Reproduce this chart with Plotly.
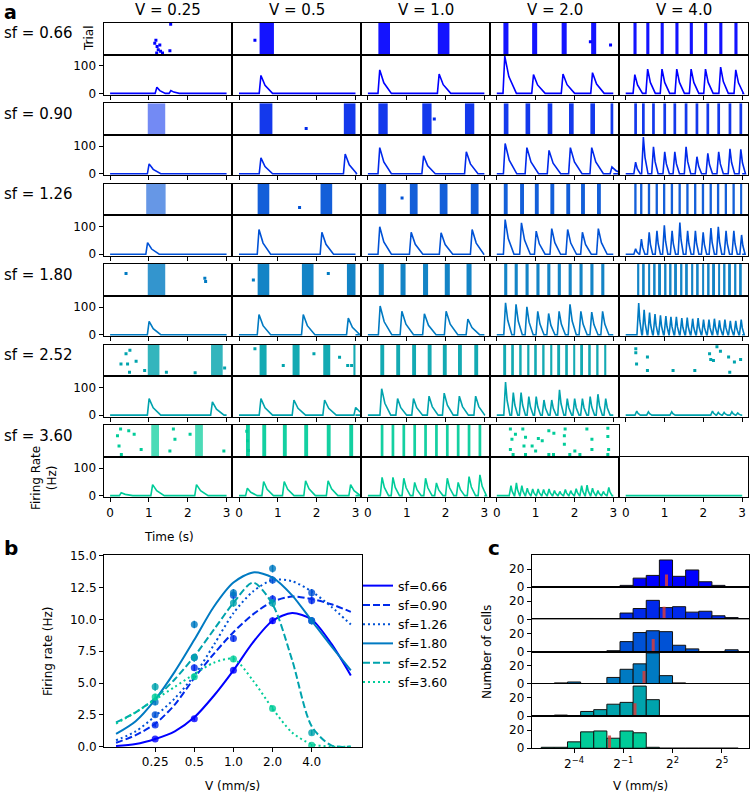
import numpy as np
import plotly.graph_objects as go

SF = [0.66, 0.90, 1.26, 1.80, 2.52, 3.60]
SPEEDS = [0.25, 0.5, 1.0, 2.0, 4.0]
COLORS = ['#0000ff', '#0029eb', '#0052d6', '#007ac2', '#00a3ad', '#00cc99']

# ---- panel a: cycle onset times (s) and PSTH peak rates (Hz), one list per (sf, V)
ONSETS = [
    [[1.17, 1.53], [0.53], [0.27, 1.8], [0.17, 0.91, 1.67, 2.43],
     [0.2, 0.53, 0.9, 1.28, 1.65, 2.02, 2.41, 2.8]],
    [[0.97], [0.53, 2.7], [0.27, 1.4, 2.5], [0.18, 0.74, 1.31, 1.86, 2.41, 2.93],
     [0.22, 0.42, 0.68, 0.97, 1.23, 1.52, 1.8, 2.08, 2.36, 2.65, 2.93]],
    [[0.93], [0.48, 2.1], [0.27, 1.08, 1.85, 2.65], [0.18, 0.6, 0.98, 1.38, 1.79, 2.17, 2.58],
     [0.22, 0.37, 0.57, 0.77, 0.96, 1.16, 1.36, 1.56, 1.76, 1.96, 2.16, 2.35, 2.55, 2.75, 2.95]],
    [[0.97], [0.48, 1.62, 2.78], [0.28, 0.84, 1.42, 1.98, 2.54],
     [0.19, 0.46, 0.74, 1.02, 1.3, 1.57, 1.85, 2.13, 2.41, 2.69],
     [0.3, 0.44, 0.58, 0.72, 0.86, 1.0, 1.13, 1.27, 1.41, 1.55, 1.69, 1.83, 1.97, 2.11,
      2.25, 2.38, 2.52, 2.66, 2.8, 2.94]],
    [[0.97, 2.6], [0.53, 1.38, 2.17, 2.97], [0.32, 0.73, 1.14, 1.54, 1.93, 2.32, 2.74],
     [0.19, 0.39, 0.59, 0.79, 0.98, 1.18, 1.38, 1.58, 1.78, 1.97, 2.17, 2.37, 2.57, 2.77],
     [0.25, 0.55, 1.15, 2.2, 2.35, 2.5, 2.7, 2.85]],
    [[0.25, 1.06, 2.19], [0.18, 0.6, 1.13, 1.68, 2.26, 2.84],
     [0.33, 0.61, 0.89, 1.17, 1.45, 1.73, 2.01, 2.29, 2.57, 2.85],
     [0.33, 0.47, 0.61, 0.75, 0.89, 1.03, 1.17, 1.31, 1.45, 1.59, 1.73, 1.87, 2.01, 2.15,
      2.29, 2.43, 2.57, 2.71, 2.85],
     []],
]
RATES = [
    [[22, 10], [65], [85, 70], [135, 68, 70, 75], [68, 88, 88, 88, 88, 88, 95, 85]],
    [[36], [58, 72], [95, 65, 80], [110, 95, 85, 95, 95, 25],
     [42, 133, 98, 80, 80, 98, 62, 74, 80, 91, 89]],
    [[42], [90, 80], [100, 80, 78, 90], [126, 114, 84, 93, 90, 80, 93],
     [20, 55, 80, 85, 105, 85, 115, 85, 85, 80, 95, 100, 85, 85, 70]],
    [[48], [73, 73, 60], [104, 85, 76, 85, 57], [116, 110, 101, 85, 77, 85, 110, 85, 82, 85],
     [115, 90, 80, 75, 70, 68, 65, 65, 60, 62, 58, 60, 55, 55, 58, 52, 55, 50, 50, 55]],
    [[60, 48], [60, 55, 55, 28], [96, 60, 60, 69, 80, 69, 69],
     [120, 82, 82, 67, 67, 55, 55, 92, 60, 60, 60, 67, 76, 60],
     [15, 12, 12, 15, 10, 10, 12, 8]],
    [[10, 40, 40], [27, 51, 51, 54, 54, 40], [66, 66, 63, 48, 63, 46, 63, 48, 69, 75],
     [36, 46, 36, 27, 24, 24, 22, 24, 18, 15, 22, 18, 25, 36, 38, 27, 18, 15, 30],
     []],
]
# width of the spike band per cycle (s)
BAND_W = [
    [0, 0.37, 0.3, 0.13, 0.08],
    [0.45, 0.33, 0.24, 0.12, 0.07],
    [0.5, 0.3, 0.2, 0.1, 0.06],
    [0.45, 0.3, 0.13, 0.08, 0.05],
    [0.3, 0.18, 0.1, 0.05, 0],
    [0.2, 0.1, 0.07, 0, 0],
]
# isolated spikes: (time s, trial fraction)
SPIKES = [
    [[(1.15, 0.35), (1.18, 0.45), (1.21, 0.25), (1.24, 0.15), (1.2, 0.05), (1.3, 0.1),
      (1.35, 0.05), (1.56, 0.95), (1.54, 0.12), (1.28, 0.3)],
     [(0.41, 0.45)], [], [(2.41, 0.4), (2.93, 0.3)], []],
    [[], [(1.73, 0.2)], [(1.71, 0.5)], [], []],
    [[], [(1.56, 0.25)], [(0.88, 0.55)], [], []],
    [[(0.41, 0.7), (2.44, 0.55), (2.46, 0.45)], [(0.37, 0.5), (2.3, 0.7)], [], [], []],
    [[(0.41, 0.71), (0.51, 0.82), (0.28, 0.39), (0.45, 0.39), (0.67, 0.47), (0.5, 0.13),
      (0.89, 0.18), (1.45, 0.13), (2.19, 0.11), (2.95, 0.26)],
     [(0.41, 0.87), (1.14, 0.34), (1.93, 0.71), (2.59, 0.6), (2.8, 0.34), (2.9, 0.34)],
     [], [],
     [(0.26, 0.87), (0.26, 0.74), (0.28, 0.39), (0.56, 0.61), (0.56, 0.18), (1.22, 0.18),
      (1.78, 0.18), (2.16, 0.71), (2.19, 0.53), (2.26, 0.5), (2.35, 0.93), (2.44, 0.79),
      (2.65, 0.61), (2.68, 0.13), (2.8, 0.45), (2.96, 0.53)]],
    [[(0.19, 0.66), (0.23, 0.34), (0.27, 0.87), (0.29, 0.07), (0.48, 0.82), (0.62, 0.71),
      (0.8, 0.23), (1.63, 0.87), (1.67, 0.55), (1.54, 0.18), (2.06, 0.71), (2.93, 0.18)],
     [(0.2, 0.8), (0.22, 0.5), (0.24, 0.2)], [],
     [(0.35, 0.87), (0.39, 0.55), (0.35, 0.23), (0.42, 0.07), (0.48, 0.71), (0.67, 0.87),
      (0.74, 0.61), (0.7, 0.34), (0.74, 0.07), (0.91, 0.34), (1.0, 0.18), (1.07, 0.57),
      (1.17, 0.5), (1.34, 0.82), (1.47, 0.74), (1.34, 0.07), (1.46, 0.07), (1.76, 0.87),
      (1.74, 0.66), (1.74, 0.39), (1.88, 0.07), (2.01, 0.18), (2.14, 0.07), (2.32, 0.87),
      (2.45, 0.55), (2.45, 0.23), (2.86, 0.9), (2.86, 0.64), (2.88, 0.23), (2.86, 0.07)],
     []],
]

# ---- panel b: tuning curves
FIT_V = [0.125, 0.177, 0.25, 0.354, 0.5, 0.707, 1.0, 1.414, 2.0, 2.83, 4.0, 5.66, 8.0]
FIT_RATE = [
    [0.05, 0.2, 0.6, 1.2, 2.3, 4.0, 6.0, 8.2, 9.9, 10.5, 10.0, 8.1, 5.6],
    [0.3, 0.9, 1.8, 3.3, 5.4, 7.3, 9.0, 10.4, 11.4, 11.8, 11.6, 11.2, 10.6],
    [0.5, 1.2, 2.4, 3.8, 5.6, 8.0, 10.5, 12.2, 13.1, 13.0, 12.2, 11.0, 9.6],
    [1.0, 2.0, 3.7, 5.9, 8.4, 11.0, 12.9, 13.7, 13.3, 11.9, 9.9, 7.9, 6.0],
    [1.9, 2.7, 3.8, 5.3, 7.1, 9.2, 11.3, 12.9, 11.2, 6.8, 1.6, 0.1, 0.0],
    [1.8, 2.7, 3.7, 4.7, 5.7, 6.6, 6.9, 5.2, 3.0, 1.1, 0.2, 0.0, 0.0],
]
MEAN_RATE = [
    [0.6, 2.2, 6.0, 9.9, 9.9],
    [1.7, 6.2, 8.5, 11.6, 11.5],
    [2.5, 7.0, 11.9, 13.1, 12.1],
    [3.5, 9.6, 12.1, 14.0, 9.9],
    [4.7, 7.0, 11.3, 11.3, 1.1],
    [3.9, 5.5, 6.9, 3.0, 0.1],
]
SEM_RATE = [
    [0.1, 0.15, 0.2, 0.25, 0.25],
    [0.15, 0.25, 0.25, 0.3, 0.3],
    [0.2, 0.3, 0.3, 0.3, 0.3],
    [0.25, 0.3, 0.3, 0.3, 0.3],
    [0.3, 0.3, 0.3, 0.3, 0.2],
    [0.25, 0.25, 0.25, 0.2, 0.1],
]
DASHES = ['solid', '7px,3px', '2px,3px', 'solid', '7px,3px', '2px,3px']

# ---- panel c: preferred-speed histograms (bin edges are powers of 2)
BIN_EXP = [-6.0, -5.2, -4.4, -3.6, -2.8, -2.0, -1.2, -0.4, 0.4, 1.2, 2.0, 2.8, 3.6, 4.4, 5.2, 6.0]
COUNTS = [
    [0, 0, 0, 0, 0, 0, 2, 10, 13, 30, 12, 19, 6, 2, 0],
    [0, 0, 0, 1, 0, 0, 7, 12, 21, 13, 14, 8, 9, 4, 2],
    [0, 0, 0, 0, 0, 1, 11, 21, 23, 22, 7, 3, 0, 0, 2],
    [0, 1, 2, 0, 0, 7, 16, 22, 34, 9, 1, 0, 0, 0, 0],
    [0, 1, 0, 5, 7, 13, 15, 33, 18, 0, 0, 0, 0, 0, 0],
    [1, 1, 7, 18, 19, 11, 19, 17, 1, 0, 0, 0, 0, 0, 0],
]
MEDIAN_V = [3.1, 2.8, 1.77, 1.2, 0.82, 0.28]

W, H = 750, 794
FONT = 'DejaVu Sans'
# rasters whose spike bands are loose rather than solid
LOOSE = {(1, 0): 0.55, (2, 0): 0.6, (3, 0): 0.8, (4, 0): 0.8, (5, 0): 0.7}

layout = dict(width=W, height=H, margin=dict(l=0, r=0, t=0, b=0, autoexpand=False),
              paper_bgcolor='white', plot_bgcolor='white', barmode='overlay',
              font=dict(family=FONT, size=12, color='black'), annotations=[])
traces = []
naxes = [0]


def dom_x(a, b):
    return [a / W, b / W]


def dom_y(top, bottom):
    return [1 - bottom / H, 1 - top / H]


def frame(**kw):
    d = dict(showline=True, linecolor='black', linewidth=1, mirror=True, showgrid=False,
             zeroline=False, ticks='', showticklabels=False, ticklen=4, tickcolor='black',
             tickfont=dict(size=12), automargin=False)
    d.update(kw)
    return d


def add_axes(xd, yd, xa, ya):
    naxes[0] += 1
    s = '' if naxes[0] == 1 else str(naxes[0])
    layout['xaxis' + s] = dict(domain=xd, anchor='y' + s, **xa)
    layout['yaxis' + s] = dict(domain=yd, anchor='x' + s, **ya)
    return 'x' + s, 'y' + s


def ann(text, px, py, size=12, **kw):
    d = dict(text=text, x=px / W, y=1 - py / H, xref='paper', yref='paper', showarrow=False,
             xanchor='center', yanchor='middle', font=dict(family=FONT, size=size, color='black'))
    d.update(kw)
    layout['annotations'].append(d)


def psth_line(onsets, rates):
    xs, ys = [0.0], [0.0]
    gap = min(np.diff(onsets)) if len(onsets) > 1 else 0.8
    d = min(0.3, 0.6 * gap)
    for t, h in zip(onsets, rates):
        pk = t + 0.035
        xs += [t - 0.01, pk, pk + d * 0.35, pk + d]
        ys += [0, h, h * 0.45, 0]
    xs.append(3.0)
    ys.append(0.0)
    return xs, ys


# ---------------- panel a
COL_L, COL_W = 103.5, 128.9
ROW_T, ROW_STEP, RAST_H, PSTH_H = 22.7, 80.45, 31.8, 40.5
XR = [-0.17, 3.15]
for r in range(6):
    col = COLORS[r]
    top = ROW_T + r * ROW_STEP
    for c in range(5):
        xl = COL_L + c * COL_W
        xd = dom_x(xl, xl + COL_W)
        # raster
        xa, ya = add_axes(xd, dom_y(top, top + RAST_H), frame(range=XR), frame(range=[0, 1]))
        w = BAND_W[r][c]
        if w > 0:
            bx, bw = [], []
            for t, h in zip(ONSETS[r][c], RATES[r][c]):
                if h >= 20:
                    ww = min(w, 3.0 - t)
                    bx.append(t + ww / 2)
                    bw.append(ww)
            traces.append(go.Bar(x=bx, y=[1] * len(bx), width=bw, base=0, marker=dict(color=col, line=dict(width=0)),
                                 opacity=LOOSE.get((r, c), 0.92), xaxis=xa, yaxis=ya, showlegend=False,
                                 hoverinfo='skip'))
        sp = SPIKES[r][c]
        if sp:
            traces.append(go.Scatter(x=[p[0] for p in sp], y=[p[1] for p in sp], mode='markers',
                                     marker=dict(symbol='square', size=3, color=col),
                                     xaxis=xa, yaxis=ya, showlegend=False, hoverinfo='skip'))
        # psth
        yk = frame(range=[-6, 141])
        if c == 0:
            yk.update(tickvals=[0, 100], ticks='outside', showticklabels=True)
        xk = frame(range=XR, tickvals=[0, 1, 2, 3], ticks='outside', showticklabels=(r == 5))
        xa, ya = add_axes(xd, dom_y(top + RAST_H, top + RAST_H + PSTH_H), xk, yk)
        px_, py_ = psth_line(ONSETS[r][c], RATES[r][c])
        traces.append(go.Scatter(x=px_, y=py_, mode='lines', line=dict(color=col, width=1.6),
                                 xaxis=xa, yaxis=ya, showlegend=False, hoverinfo='skip'))
    ann('sf = %.2f' % SF[r], 2, top + 10.6, 15, xanchor='left')

for c, v in enumerate(SPEEDS):
    ann('V = %s' % v, COL_L + c * COL_W + COL_W / 2, 10, 15)
ann('Trial', 89, 38, 12, textangle=-90)
ann('Firing Rate<br>(Hz)', 44, 478, 12, textangle=-90)
ann('Time (s)', 169, 537, 12)
ann('<b>a</b>', 2, 12, 19, xanchor='left')

# ---------------- panel b
xa, ya = add_axes(dom_x(104, 361.7), dom_y(555, 747),
                  frame(type='log', range=[np.log10(0.101), np.log10(9.7)], tickvals=SPEEDS,
                        ticktext=['0.25', '0.5', '1.0', '2.0', '4.0'], ticks='outside', showticklabels=True),
                  frame(range=[-0.03, 15.07], tickvals=[0, 2.5, 5, 7.5, 10, 12.5, 15],
                        ticktext=['0.0', '2.5', '5.0', '7.5', '10.0', '12.5', '15.0'],
                        ticks='outside', showticklabels=True))
for i in range(6):
    traces.append(go.Scatter(x=FIT_V, y=FIT_RATE[i], mode='lines', name='sf=%.2f' % SF[i],
                             line=dict(color=COLORS[i], width=2, dash=DASHES[i], shape='spline', smoothing=0.8),
                             xaxis=xa, yaxis=ya))
    traces.append(go.Scatter(x=SPEEDS, y=MEAN_RATE[i], mode='markers', showlegend=False,
                             marker=dict(size=7, color=COLORS[i], opacity=0.8),
                             error_y=dict(type='data', array=SEM_RATE[i], color=COLORS[i], thickness=1.5, width=0),
                             xaxis=xa, yaxis=ya))
layout['legend'] = dict(x=358 / W, y=1 - 571 / H, xanchor='left', yanchor='top', bgcolor='rgba(0,0,0,0)',
                        font=dict(size=12.5), itemwidth=30, tracegroupgap=0)
ann('Firing rate (Hz)', 48, 651, 12, textangle=-90)
ann('V (mm/s)', 233, 786, 12)
ann('<b>b</b>', 2, 548, 20, xanchor='left')

# ---------------- panel c
centers = [(BIN_EXP[k] + BIN_EXP[k + 1]) / 2 for k in range(len(BIN_EXP) - 1)]
widths = [BIN_EXP[k + 1] - BIN_EXP[k] for k in range(len(BIN_EXP) - 1)]
for i in range(6):
    top = 555 + 32.2 * i
    last = i == 5
    xk = frame(range=[-6.58, 6.66])
    if last:
        xk.update(tickvals=[-4, -1, 2, 5], ticktext=['2<sup>\u22124</sup>', '2<sup>\u22121</sup>',
                                                       '2<sup>2</sup>', '2<sup>5</sup>'],
                  ticks='outside', showticklabels=True)
    xa, ya = add_axes(dom_x(531.7, 749), dom_y(top, top + 32.2), xk,
                      frame(range=[0, 35.5], tickvals=[0, 20], ticks='outside', showticklabels=True))
    traces.append(go.Bar(x=centers, y=COUNTS[i], width=widths, marker=dict(color=COLORS[i], line=dict(color='#111', width=1)),
                         xaxis=xa, yaxis=ya, showlegend=False, hoverinfo='skip'))
    m = np.log2(MEDIAN_V[i])
    traces.append(go.Scatter(x=[m, m], y=[0, 14], mode='lines', line=dict(color='rgba(214,60,60,0.85)', width=3),
                             xaxis=xa, yaxis=ya, showlegend=False, hoverinfo='skip'))
ann('Number of cells', 487, 652, 12, textangle=-90)
ann('V (mm/s)', 640, 786, 12)
ann('<b>c</b>', 486, 548, 20, xanchor='left')

fig = go.Figure(data=traces, layout=layout)
# drop the browser's default 8px body margin so the figure fills the window exactly
fig.write_html("out.html", config={'displayModeBar': False},
               post_script="document.body.style.margin='0';document.body.style.overflow='hidden';")
